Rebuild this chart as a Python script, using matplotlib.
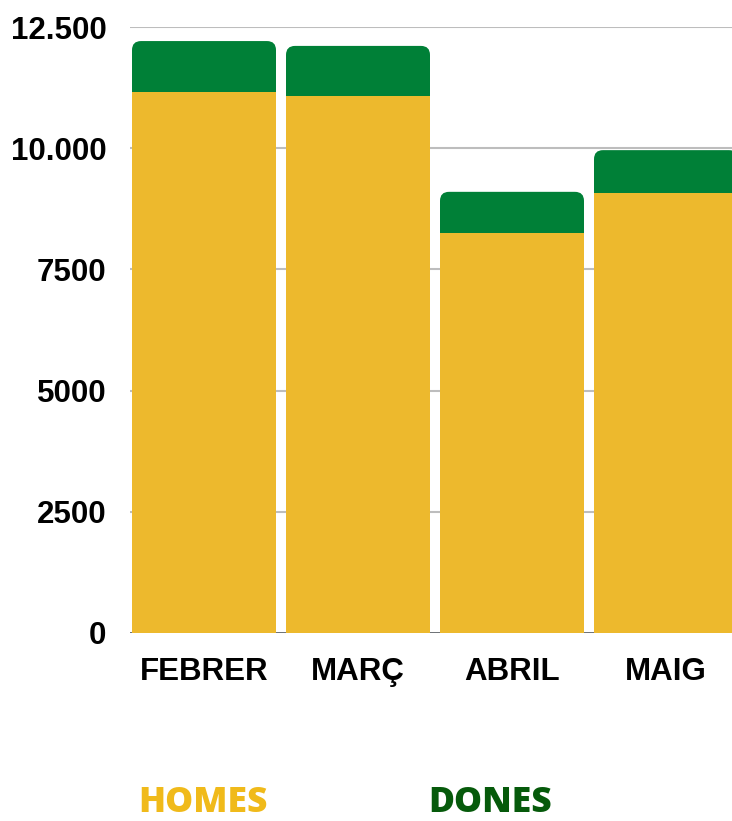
import matplotlib.pyplot as plt
from matplotlib.patches import FancyBboxPatch

# valors llegits del grafic
mesos = ["FEBRER", "MARÇ", "ABRIL", "MAIG"]
homes = [11160, 11080, 8250, 9080]
dones = [1050, 1030, 850, 880]
ticks = [0, 2500, 5000, 7500, 10000, 12500]
tick_labels = ["0", "2500", "5000", "7500", "10.000", "12.500"]

groc = "#EDB92D"
verd = "#008037"

W, H = 732, 821
fig = plt.figure(figsize=(W / 100, H / 100), dpi=100)
ax = fig.add_axes([130 / W, 1 - 633 / H, (732 - 130) / W, (633 - 27) / H])

x = list(range(len(mesos)))
amplada = 144 / 154
ax.set_xlim(-74 / 154, (732 - 204) / 154)
ax.set_ylim(0, 12500)

totals = [h + d for h, d in zip(homes, dones)]

# proporcio px per unitat per arrodonir les cantonades
px_x = 1 / 154
px_y = 12500 / 606
aspect = px_y / px_x
for xi, t in zip(x, totals):
    p = FancyBboxPatch((xi - amplada / 2, 0), amplada, t,
                       boxstyle="round,pad=0,rounding_size=%f" % (9 * px_x),
                       mutation_aspect=aspect, facecolor=verd, edgecolor="none",
                       zorder=2)
    ax.add_patch(p)

ax.bar(x, homes, width=amplada, color=groc, zorder=3)

for t in ticks[1:]:
    ax.axhline(t, color="#BDBDBD", lw=1.5, zorder=1)
ax.axhline(0, color="#5F6368", lw=2, zorder=1)

for s in ax.spines.values():
    s.set_visible(False)

ax.set_yticks(ticks)
ax.set_yticklabels(tick_labels, fontsize=22.5, fontweight="bold",
                   family="Liberation Sans")
ax.set_xticks(x)
ax.set_xticklabels(mesos, fontsize=22.5, fontweight="bold",
                   family="Liberation Sans")
ax.tick_params(axis="y", length=0, pad=17)
ax.tick_params(axis="x", length=0, pad=17)

# llegenda com a text de colors
fig.text(203 / W, 1 - 812 / H, "HOMES", color="#F0BA1A", fontsize=25.5,
         fontweight="heavy", family="Open Sans", ha="center", va="baseline")
fig.text(490 / W, 1 - 812 / H, "DONES", color="#065A0B", fontsize=25.5,
         fontweight="heavy", family="Open Sans", ha="center", va="baseline")

fig.savefig("out.png", dpi=100)
